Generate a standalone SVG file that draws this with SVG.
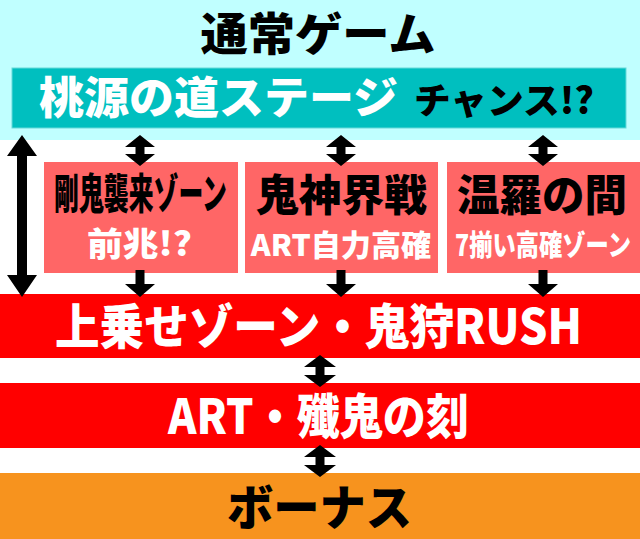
<svg xmlns="http://www.w3.org/2000/svg" width="640" height="539" viewBox="0 0 640 539">
<style>
.t{font-family:"Noto Sans CJK JP","Noto Sans",sans-serif;font-weight:900;text-anchor:middle}
.w{fill:#ffffff}
.k{fill:#000000}
.arr{fill:#000000}
</style>
<rect x="0" y="0" width="640" height="539" fill="#ffffff"/>
<g id="normal">
<rect x="0" y="0" width="640" height="140" fill="#c0ffff"/>
<text class="t k" x="318" y="51" font-size="45" textLength="235" lengthAdjust="spacingAndGlyphs">通常ゲーム</text>
</g>
<g id="togen">
<rect x="12" y="68" width="614" height="60" fill="#00bfbf" stroke="#66d9d9" stroke-width="1"/>
<text class="t w" x="218.5" y="114" font-size="44" textLength="359" lengthAdjust="spacingAndGlyphs">桃源の道ステージ</text>
<text class="t k" x="504" y="114" font-size="36" textLength="180" lengthAdjust="spacingAndGlyphs">チャンス!?</text>
</g>
<g id="gouki">
<rect x="44" y="162" width="194" height="111" fill="#ff6666"/>
<text class="t k" transform="translate(140.5,209) scale(0.6,1)" x="0" y="0" font-size="42" textLength="288" lengthAdjust="spacingAndGlyphs">剛鬼襲来ゾーン</text>
<text class="t w" x="139.5" y="256" font-size="33" textLength="105" lengthAdjust="spacingAndGlyphs">前兆!?</text>
</g>
<g id="kishin">
<rect x="245" y="162" width="193" height="111" fill="#ff6666"/>
<text class="t k" x="341.5" y="211" font-size="43" textLength="171" lengthAdjust="spacingAndGlyphs">鬼神界戦</text>
<text class="t w" transform="translate(341,256) scale(0.92,1)" x="0" y="0" font-size="30" textLength="196" lengthAdjust="spacingAndGlyphs">ART自力高確</text>
</g>
<g id="ura">
<rect x="447" y="162" width="193" height="111" fill="#ff6666"/>
<text class="t k" x="542" y="211" font-size="43" textLength="170" lengthAdjust="spacingAndGlyphs">温羅の間</text>
<text class="t w" transform="translate(543,256) scale(0.8,1)" x="0" y="0" font-size="29" textLength="220" lengthAdjust="spacingAndGlyphs">7揃い高確ゾーン</text>
</g>
<g id="rush">
<rect x="0" y="294" width="640" height="64" fill="#ff0000"/>
<text class="t w" x="318.5" y="344" font-size="48" textLength="527" lengthAdjust="spacingAndGlyphs">上乗せゾーン・鬼狩RUSH</text>
</g>
<g id="art">
<rect x="0" y="383" width="640" height="65" fill="#ff0000"/>
<text class="t w" x="318.5" y="434" font-size="48" textLength="301" lengthAdjust="spacingAndGlyphs">ART・殲鬼の刻</text>
</g>
<g id="bonus">
<rect x="0" y="473" width="640" height="66" fill="#f7931e"/>
<text class="t k" x="319.5" y="525" font-size="48" textLength="185" lengthAdjust="spacingAndGlyphs">ボーナス</text>
</g>
<g id="connectors">
<polygon class="arr" points="22,135 37,156 27,156 27,275 37,275 22,297 7,275 17,275 17,156 7,156"/>
<polygon class="arr" points="140,135 155,147 144.5,147 144.5,154 155,154 140,166 125,154 135.5,154 135.5,147 125,147"/>
<polygon class="arr" points="341,135 356,147 345.5,147 345.5,154 356,154 341,166 326,154 336.5,154 336.5,147 326,147"/>
<polygon class="arr" points="543,135 558,147 547.5,147 547.5,154 558,154 543,166 528,154 538.5,154 538.5,147 528,147"/>
<polygon class="arr" points="135.5,270 144.5,270 144.5,284 155,284 140,297 125,284 135.5,284"/>
<polygon class="arr" points="336.5,270 345.5,270 345.5,284 356,284 341,297 326,284 336.5,284"/>
<polygon class="arr" points="538.5,270 547.5,270 547.5,284 558,284 543,297 528,284 538.5,284"/>
<polygon class="arr" points="320,355 336,367 324.5,367 324.5,375 336,375 320,387 304,375 315.5,375 315.5,367 304,367"/>
<polygon class="arr" points="320,445 336,457 324.5,457 324.5,465 336,465 320,477 304,465 315.5,465 315.5,457 304,457"/>
</g>
</svg>
